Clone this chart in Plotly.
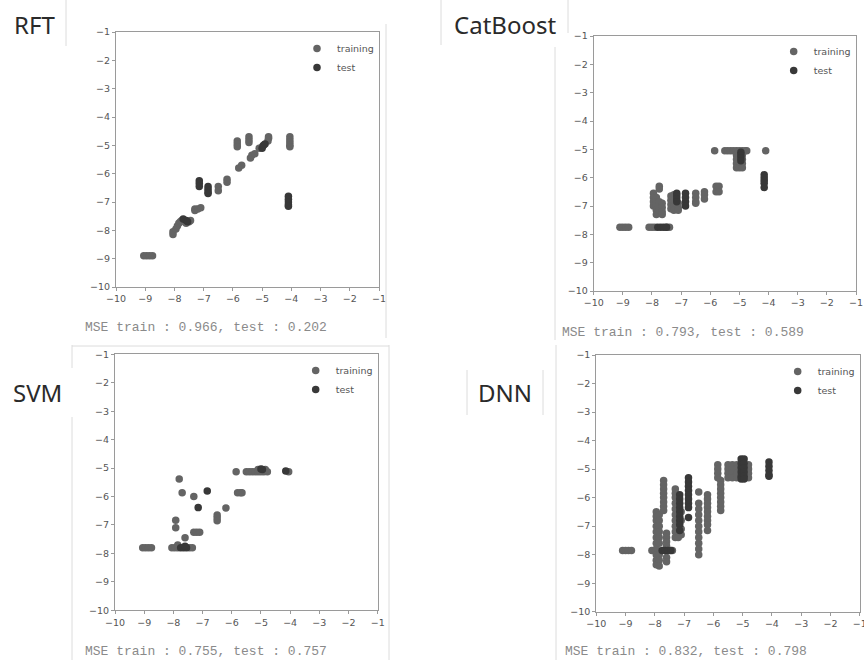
import plotly.graph_objects as go

W, H = 864, 660

# ---------------- data ----------------
tick_vals = [-10, -9, -8, -7, -6, -5, -4, -3, -2, -1]
tick_text = ["\u221210", "\u22129", "\u22128", "\u22127", "\u22126", "\u22125", "\u22124", "\u22123", "\u22122", "\u22121"]

panel_titles = ["RFT", "CatBoost", "SVM", "DNN"]
mse_texts = ["MSE train : 0.966, test : 0.202",
             "MSE train : 0.793, test : 0.589",
             "MSE train : 0.755, test : 0.757",
             "MSE train : 0.832, test : 0.798"]
series_names = ["training", "test"]

# RFT
rft_train_x = [-9.05, -8.95, -8.85, -8.75, -8.05, -8.05, -7.95, -7.9, -7.85, -7.8, -7.75, -7.6, -7.5, -7.45,
               -7.3, -7.3, -7.2, -7.1, -6.5, -6.5, -6.2, -6.2, -5.8, -5.7, -5.85, -5.85, -5.85,
               -5.45, -5.45, -5.45, -5.4, -5.35, -5.25, -5.1, -5.0, -4.8, -4.78, -4.78,
               -4.05, -4.05, -4.05, -4.05, -4.05]
rft_train_y = [-8.9, -8.9, -8.9, -8.9, -8.05, -8.15, -7.95, -7.85, -7.75, -7.7, -7.65, -7.75, -7.7, -7.65,
               -7.3, -7.25, -7.25, -7.2, -6.45, -6.6, -6.2, -6.3, -5.8, -5.7, -4.85, -4.95, -5.05,
               -4.7, -4.8, -4.9, -5.45, -5.35, -5.3, -5.1, -5.05, -4.85, -4.75, -4.7,
               -4.7, -4.8, -4.9, -5.0, -5.05]
rft_test_x = [-7.7, -7.6, -7.55, -7.15, -7.15, -7.15, -6.85, -6.85, -6.85, -6.85,
              -5.0, -4.95, -4.9, -4.1, -4.1, -4.1, -4.1, -4.1]
rft_test_y = [-7.6, -7.65, -7.7, -6.25, -6.35, -6.45, -6.45, -6.55, -6.65, -6.7,
              -5.1, -5.0, -4.95, -6.8, -6.9, -7.0, -7.1, -7.15]

# CatBoost
cat_train_x = [-9.1, -9.0, -8.9, -8.8, -8.1, -8.0, -7.9, -7.5, -7.4,
               -7.95, -7.95, -7.95, -7.95, -7.85, -7.85, -7.85, -7.85, -7.85,
               -7.75, -7.75, -7.75, -7.75, -7.75, -7.65, -7.65, -7.65, -7.65,
               -7.35, -7.35, -7.35, -7.35, -7.25, -7.25, -7.25, -7.25, -7.1, -7.1, -7.1,
               -6.5, -6.5, -6.5, -6.5, -6.2, -6.2, -6.2,
               -5.8, -5.7, -5.8, -5.7,
               -5.85, -5.5, -5.4, -5.3, -5.2, -5.1, -5.0, -4.9, -4.8, -4.75,
               -5.1, -5.1, -5.1, -5.1, -5.0, -4.9, -4.9, -4.9, -4.9,
               -4.1]
cat_train_y = [-7.75, -7.75, -7.75, -7.75, -7.75, -7.75, -7.75, -7.75, -7.75,
               -6.55, -6.7, -6.85, -7.0, -6.7, -6.85, -7.0, -7.15, -7.3,
               -6.3, -6.4, -6.85, -7.0, -7.15, -6.9, -7.05, -7.2, -7.3,
               -6.65, -6.8, -6.95, -7.1, -6.6, -6.8, -7.0, -7.15, -6.9, -7.05, -7.15,
               -6.55, -6.7, -6.85, -6.9, -6.5, -6.6, -6.75,
               -6.3, -6.3, -6.5, -6.5,
               -5.05, -5.05, -5.05, -5.05, -5.05, -5.05, -5.05, -5.05, -5.05, -5.05,
               -5.2, -5.35, -5.5, -5.65, -5.65, -5.2, -5.35, -5.5, -5.65,
               -5.05]
cat_test_x = [-7.8, -7.7, -7.6, -7.5, -7.15, -7.15, -7.15, -7.15, -6.85, -6.85, -6.85, -6.85,
              -4.95, -4.95, -4.95, -4.95, -4.15, -4.15, -4.15, -4.15, -4.15]
cat_test_y = [-7.75, -7.75, -7.75, -7.75, -6.55, -6.65, -6.75, -6.85, -6.55, -6.7, -6.85, -7.0,
              -5.1, -5.2, -5.3, -5.4, -5.9, -6.0, -6.1, -6.2, -6.35]

# SVM
svm_train_x = [-9.05, -8.95, -8.85, -8.75, -8.05, -7.95, -7.85, -7.45, -7.35, -7.85, -7.6,
               -7.3, -7.2, -7.1, -7.92, -7.92, -6.5, -6.5, -6.5, -6.2, -7.7, -7.3, -7.8,
               -5.8, -5.7, -5.65, -5.85, -5.5, -5.4, -5.3, -5.2, -5.1, -5.0, -4.9, -4.78,
               -5.1, -4.85, -4.05]
svm_train_y = [-7.8, -7.8, -7.8, -7.8, -7.8, -7.8, -7.8, -7.8, -7.8, -7.7, -7.45,
               -7.26, -7.26, -7.26, -7.1, -6.83, -6.65, -6.75, -6.85, -6.4, -5.87, -6.0, -5.38,
               -5.87, -5.87, -5.87, -5.13, -5.13, -5.13, -5.13, -5.13, -5.13, -5.13, -5.13, -5.13,
               -5.05, -5.05, -5.13]
svm_test_x = [-7.75, -7.65, -7.55, -7.6, -7.15, -6.84, -5.0, -4.95, -4.15]
svm_test_y = [-7.8, -7.8, -7.8, -7.75, -6.39, -5.81, -5.03, -5.05, -5.1]

# DNN (columns of predictions: true value, predicted values)
dnn_train_columns = [
    (-9.1, [-7.85]), (-9.0, [-7.85]), (-8.9, [-7.85]), (-8.8, [-7.85]),
    (-8.1, [-7.85]), (-8.0, [-7.85]), (-7.5, [-7.85]), (-7.4, [-7.85]),
    (-7.95, [-6.5, -6.65, -6.8, -7.0, -7.2, -7.4, -7.6, -7.8, -8.0, -8.2, -8.35]),
    (-7.85, [-6.6, -6.8, -7.0, -7.2, -7.4, -7.6, -8.0, -8.2, -8.4]),
    (-7.7, [-5.4, -5.55, -5.7, -5.85, -6.0, -6.15, -6.3, -6.45]),
    (-7.6, [-7.25, -7.4, -7.55, -7.7, -8.1, -8.25]),
    (-7.3, [-5.7, -5.85, -6.0, -6.2, -6.4, -6.6, -6.8, -7.0, -7.2, -7.4]),
    (-7.2, [-6.2, -6.4, -6.6, -6.8, -7.0, -7.2, -7.4]),
    (-7.1, [-6.5, -6.8, -7.1, -7.3]),
    (-6.5, [-5.8, -6.2, -6.4, -6.6, -6.8, -7.0, -7.2, -7.4, -7.6, -7.8, -8.0]),
    (-6.2, [-5.9, -6.05, -6.2, -6.35, -6.5, -6.65, -6.8, -6.95, -7.15]),
    (-5.85, [-4.85, -5.0, -5.15, -5.3]),
    (-5.75, [-5.4, -5.55, -5.7, -5.85, -6.0, -6.15, -6.3, -6.45]),
    (-5.5, [-4.85, -5.0, -5.15, -5.3]),
    (-5.35, [-4.85, -5.0, -5.15, -5.3]),
    (-5.2, [-4.85, -5.0, -5.15, -5.3]),
    (-4.8, [-4.85, -5.0, -5.15, -5.3]),
]
dnn_test_columns = [
    (-7.75, [-7.85]), (-7.65, [-7.85]), (-7.55, [-7.85]), (-7.45, [-7.85]),
    (-7.15, [-5.9, -6.05, -6.2, -6.35, -6.5, -6.65, -6.8, -6.95, -7.15]),
    (-6.85, [-5.3, -5.45, -5.6, -5.75, -5.9, -6.05, -6.2, -6.35, -6.7]),
    (-5.05, [-4.65, -4.8, -4.95, -5.1, -5.25, -5.35]),
    (-4.95, [-4.65, -4.8, -4.95, -5.1, -5.25, -5.35]),
    (-4.1, [-4.75, -4.9, -5.05, -5.2, -5.25]),
]


def flatten(cols):
    xs, ys = [], []
    for xv, yl in cols:
        for yv in yl:
            xs.append(xv)
            ys.append(yv)
    return xs, ys


dnn_train_x, dnn_train_y = flatten(dnn_train_columns)
dnn_test_x, dnn_test_y = flatten(dnn_test_columns)

train_sets = [(rft_train_x, rft_train_y), (cat_train_x, cat_train_y),
              (svm_train_x, svm_train_y), (dnn_train_x, dnn_train_y)]
test_sets = [(rft_test_x, rft_test_y), (cat_test_x, cat_test_y),
             (svm_test_x, svm_test_y), (dnn_test_x, dnn_test_y)]

# ---------------- layout (pixel geometry of the composite) ----------------
def px(x):
    return x / W


def py(y):
    return 1 - y / H


plot_boxes = [(116, 379, 32, 287), (593.7, 856, 36, 291),
              (115, 377.7, 354.3, 610.3), (596.3, 859.7, 355, 611.7)]
legend_pos = [(317, 45), (793.7, 48), (315.7, 367), (797.7, 368)]
title_pos = [(34, 25), (505, 25), (37, 392), (505, 392)]
mse_pos = [(83, 327), (560, 332), (83, 651), (563, 651)]

TRAIN_C = "#646464"
TEST_C = "#383838"
AX_C = "#9a9a9a"
TXT_C = "#555555"

fig = go.Figure()
layout = dict(width=W, height=H, margin=dict(l=0, r=0, t=0, b=0),
              paper_bgcolor="white", plot_bgcolor="white", showlegend=True)
annotations = []
shapes = []

for i in range(4):
    sfx = "" if i == 0 else str(i + 1)
    legname = "legend" if i == 0 else "legend%d" % (i + 1)
    tx, ty = train_sets[i]
    sx, sy = test_sets[i]
    fig.add_trace(go.Scatter(x=tx, y=ty, mode="markers", name=series_names[0],
                             marker=dict(color=TRAIN_C, size=7.5, line=dict(width=0)),
                             xaxis="x" + sfx, yaxis="y" + sfx, legend=legname))
    fig.add_trace(go.Scatter(x=sx, y=sy, mode="markers", name=series_names[1],
                             marker=dict(color=TEST_C, size=7.5, line=dict(width=0)),
                             xaxis="x" + sfx, yaxis="y" + sfx, legend=legname))
    x0, x1, y0, y1 = plot_boxes[i]
    common = dict(range=[-10.0001, -0.9999], tickmode="array", tickvals=tick_vals, ticktext=tick_text,
                  ticks="outside", ticklen=3, tickwidth=1, tickcolor=AX_C,
                  showline=True, linecolor=AX_C, linewidth=1, mirror=True,
                  showgrid=False, zeroline=False, automargin=False,
                  ticklabeloverflow="allow",
                  tickfont=dict(family="DejaVu Sans", size=9.5, color=TXT_C))
    layout["xaxis" + sfx] = dict(common, domain=[px(x0), px(x1)], anchor="y" + sfx)
    layout["yaxis" + sfx] = dict(common, domain=[py(y1), py(y0)], anchor="x" + sfx)
    lx, ly = legend_pos[i]
    layout[legname] = dict(x=px(lx - 20), y=py(ly - 11), xanchor="left", yanchor="top",
                           bgcolor="rgba(0,0,0,0)", borderwidth=0, tracegroupgap=0,
                           font=dict(family="DejaVu Sans", size=9.5, color=TXT_C))
    tx_, ty_ = title_pos[i]
    annotations.append(dict(text=panel_titles[i], x=px(tx_), y=py(ty_), xref="paper", yref="paper",
                            xanchor="center", yanchor="middle", showarrow=False,
                            font=dict(family="Noto Sans", size=24, color="#2a2a2a")))
    mx, my = mse_pos[i]
    annotations.append(dict(text=mse_texts[i], x=px(mx), y=py(my), xref="paper", yref="paper",
                            xanchor="left", yanchor="middle", showarrow=False,
                            font=dict(family="Liberation Mono", size=13, color="#8a8a8a")))

# light frame lines of the composite screenshot
frame_lines = [((66, 0), (66, 46)), ((386, 24), (386, 338)),
               ((441, 0), (441, 45)), ((568, 0), (568, 33)), ((555, 47), (555, 340)),
               ((72, 345), (72, 368)), ((72, 417), (72, 660)), ((389, 345), (389, 660)),
               ((72, 346), (389, 346)),
               ((467, 370), (467, 415)), ((543, 370), (543, 415)), ((556, 345), (556, 660))]
for (a, b) in frame_lines:
    shapes.append(dict(type="line", xref="paper", yref="paper",
                       x0=px(a[0]), y0=py(a[1]), x1=px(b[0]), y1=py(b[1]),
                       line=dict(color="#dcdcdc", width=1)))

layout["annotations"] = annotations
layout["shapes"] = shapes
fig.update_layout(**layout)
fig.write_html("out.html", config={"displayModeBar": False},
               post_script="document.body.style.margin='0';document.body.style.padding='0';"
                           "document.body.style.overflow='hidden';")
